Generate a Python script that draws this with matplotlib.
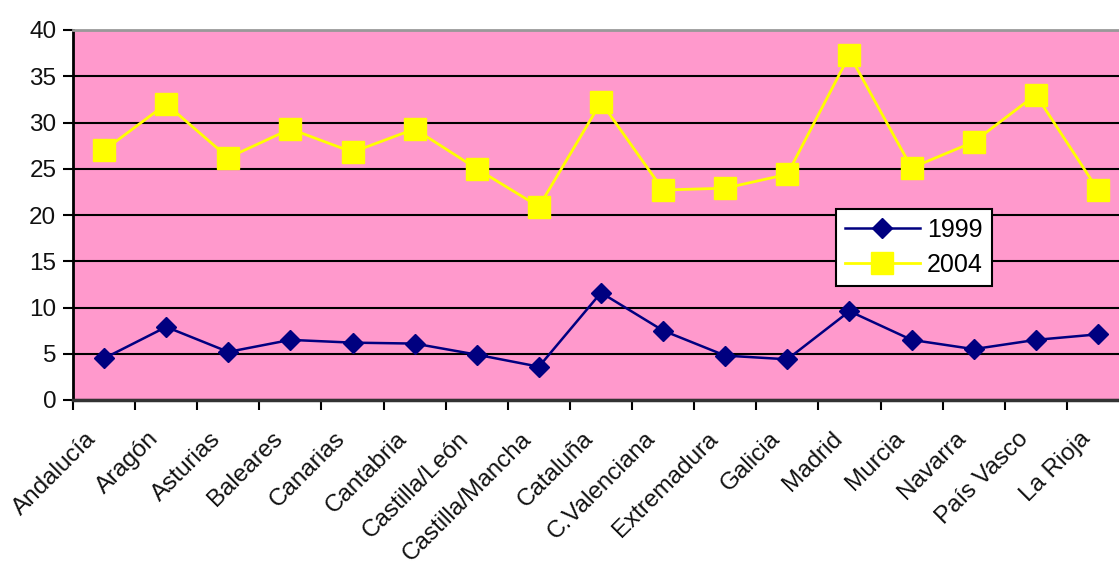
import matplotlib.pyplot as plt
import numpy as np

plt.rcParams['font.family'] = ['Liberation Sans', 'DejaVu Sans']

regiones = ['Andalucía', 'Aragón', 'Asturias', 'Baleares', 'Canarias', 'Cantabria',
            'Castilla/León', 'Castilla/Mancha', 'Cataluña', 'C.Valenciana',
            'Extremadura', 'Galicia', 'Madrid', 'Murcia', 'Navarra', 'País Vasco',
            'La Rioja']
valores_1999 = [4.5, 7.9, 5.2, 6.5, 6.2, 6.1, 4.9, 3.6, 11.6, 7.5, 4.8, 4.4, 9.6,
                6.5, 5.5, 6.5, 7.1]
valores_2004 = [27.0, 32.0, 26.2, 29.3, 26.8, 29.3, 25.0, 20.9, 32.2, 22.7, 22.9,
                24.4, 37.3, 25.1, 27.9, 33.0, 22.7]

fig = plt.figure(figsize=(11.19, 5.63), dpi=100)
ax = fig.add_axes([73 / 1119, 163 / 563, 1056 / 1119, 370 / 563])
ax.set_facecolor('#FF99CC')

x = np.arange(len(regiones))
ax.plot(x, valores_1999, color='#000080', marker='D', markersize=10, linewidth=1.8,
        label='1999', zorder=3)
ax.plot(x, valores_2004, color='#FFFF00', marker='s', markersize=16, linewidth=2,
        label='2004', zorder=3)

ax.set_ylim(0, 40)
ax.set_yticks(range(0, 41, 5))
ax.yaxis.grid(True, color='black', linewidth=1.5)
ax.set_axisbelow(True)
ax.set_xlim(-0.5, len(regiones) - 0.5)

# ticks go between the categories, labels sit under each point
ax.set_xticks(np.arange(-0.5, len(regiones), 1))
ax.set_xticklabels([])
ax.set_xticks(x - 0.3, minor=True)
ax.set_xticklabels(regiones, minor=True, rotation=45, ha='right',
                   rotation_mode='anchor', fontsize=17.5, color='#111111')
ax.tick_params(axis='x', which='minor', length=0, pad=20)
ax.tick_params(axis='x', which='major', length=7, width=1.5, direction='out')
ax.tick_params(axis='y', length=7, width=1.5, labelsize=17.5, pad=5,
               labelcolor='#111111')

ax.spines['left'].set_linewidth(2)
ax.spines['bottom'].set_linewidth(2.5)
ax.spines['bottom'].set_color('#333333')
ax.spines['top'].set_color('#999999')
ax.spines['top'].set_linewidth(2)
ax.spines['right'].set_visible(False)

leg = ax.legend(loc='upper left', bbox_to_anchor=((836 - 73) / 1056, (400 - 209) / 370),
                fontsize=18, frameon=True, fancybox=False, edgecolor='black',
                framealpha=1, handlelength=3.0, borderpad=0.35, labelspacing=0.45,
                handletextpad=0.3, borderaxespad=0)
leg.get_frame().set_linewidth(1.5)

fig.savefig('out.png', dpi=100)
